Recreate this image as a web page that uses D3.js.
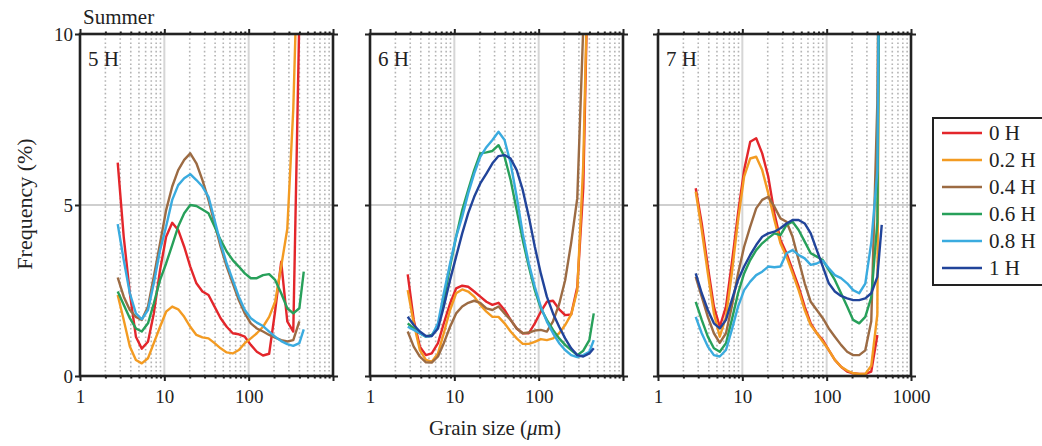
<!DOCTYPE html>
<html>
<head>
<meta charset="utf-8">
<script src="https://cdn.jsdelivr.net/npm/d3@7"></script>
<style>
  body { margin: 0; background: #fff; }
  svg text { font-family: "Liberation Serif", "Times New Roman", serif; fill: #222; }
</style>
</head>
<body>
<div id="chart"></div>
<script>
// grain sizes (um) shared by every curve
const sizes = [2.8, 3.3, 3.9, 4.6, 5.4, 6.4, 7.5, 8.9, 10.5, 12.4, 14.6, 17.2, 20.3, 24, 28.3, 33.4,
  39.4, 46.5, 54.9, 64.7, 76.4, 90, 106, 125, 148, 175, 206, 243, 287, 338, 399, 450];

const seriesNames = ["0 H", "0.2 H", "0.4 H", "0.6 H", "0.8 H", "1 H"];
const seriesColors = ["#e3262b", "#f39b22", "#9c6b43", "#27a05a", "#3aabdf", "#21449a"];
const panelTitles = ["5 H", "6 H", "7 H"];
const xTickLabels = [1, 10, 100, 1000];
const yTickLabels = [0, 5, 10];

// 5 H (no 1 H curve)
const panel5H = [
  [6.24, 4.07, 2.42, 1.15, 0.80, 1.0, 1.83, 3.1, 4.07, 4.48, 4.27, 3.78, 3.2, 2.71, 2.47, 2.37, 2.03, 1.69, 1.44, 1.25, 1.22, 1.15, 0.91, 0.71, 0.6, 0.65, 1.9, 3.34, 1.6, 1.3, 10.5, 20],
  [2.37, 1.64, 0.86, 0.47, 0.37, 0.52, 0.96, 1.44, 1.88, 2.03, 1.95, 1.73, 1.44, 1.2, 1.13, 1.1, 0.96, 0.81, 0.69, 0.66, 0.76, 0.96, 1.1, 1.25, 1.44, 1.73, 2.17, 3.2, 4.3, 7.8, 14, 20],
  [2.88, 2.32, 1.93, 1.73, 1.64, 2.03, 2.9, 3.88, 4.85, 5.54, 6.02, 6.32, 6.51, 6.22, 5.73, 5.15, 4.46, 3.78, 3.2, 2.71, 2.22, 1.83, 1.54, 1.39, 1.3, 1.2, 1.12, 1.05, 1.01, 1.05, 1.6, null],
  [2.47, 2.08, 1.69, 1.39, 1.3, 1.54, 2.12, 2.81, 3.29, 3.83, 4.37, 4.76, 5.0, 4.97, 4.87, 4.76, 4.37, 3.98, 3.64, 3.39, 3.2, 3.0, 2.86, 2.86, 2.95, 2.98, 2.81, 2.42, 1.98, 1.83, 1.98, 3.05],
  [4.44, 3.39, 2.42, 1.83, 1.66, 1.93, 2.71, 3.68, 4.37, 5.15, 5.58, 5.78, 5.9, 5.73, 5.54, 5.24, 4.56, 3.88, 3.29, 2.81, 2.32, 1.93, 1.69, 1.56, 1.46, 1.3, 1.15, 1.02, 0.93, 0.88, 0.96, 1.36],
  null
];

const panel6H = [
  [2.97, 1.64, 0.86, 0.61, 0.66, 0.96, 1.54, 2.12, 2.56, 2.64, 2.61, 2.47, 2.32, 2.17, 2.08, 2.14, 1.93, 1.64, 1.39, 1.25, 1.25, 1.54, 1.88, 2.17, 2.2, 1.95, 1.78, 1.8, 2.6, 5.5, 14, null],
  [2.51, 1.54, 0.76, 0.47, 0.42, 0.66, 1.25, 1.93, 2.42, 2.53, 2.47, 2.32, 2.08, 1.88, 1.73, 1.73, 1.54, 1.3, 1.1, 0.94, 0.94, 1.0, 1.08, 1.05, 1.1, 1.25, 1.49, 1.8, 2.5, 6.2, 14, null],
  [1.3, 0.86, 0.57, 0.4, 0.39, 0.57, 0.96, 1.44, 1.83, 2.03, 2.14, 2.2, 2.14, 1.98, 1.93, 2.03, 1.83, 1.64, 1.39, 1.25, 1.27, 1.33, 1.35, 1.3, 1.6, 2.1, 2.8, 3.9, 5.2, 10.2, 16, null],
  [1.54, 1.39, 1.25, 1.15, 1.2, 1.44, 2.22, 3.2, 4.07, 4.85, 5.44, 6.02, 6.51, 6.54, 6.58, 6.75, 6.41, 5.73, 4.85, 3.98, 3.2, 2.51, 1.98, 1.64, 1.35, 1.1, 0.91, 0.76, 0.61, 0.74, 1.05, 1.83],
  [1.44, 1.35, 1.25, 1.15, 1.17, 1.54, 2.42, 3.29, 4.07, 4.66, 5.34, 5.92, 6.41, 6.69, 6.9, 7.14, 6.9, 6.22, 5.24, 4.17, 3.29, 2.61, 2.03, 1.59, 1.25, 0.96, 0.76, 0.61, 0.55, 0.61, 0.71, 1.05],
  [1.73, 1.49, 1.3, 1.17, 1.17, 1.39, 2.03, 2.81, 3.49, 4.17, 4.76, 5.24, 5.63, 5.92, 6.22, 6.43, 6.46, 6.36, 6.02, 5.44, 4.66, 3.78, 3.0, 2.32, 1.83, 1.44, 1.1, 0.81, 0.61, 0.57, 0.66, 0.81]
];

const panel7H = [
  [5.49, 4.46, 3.2, 2.03, 1.44, 2.03, 3.29, 4.76, 6.02, 6.85, 6.95, 6.51, 5.83, 4.76, 3.98, 3.59, 3.1, 2.61, 2.03, 1.54, 1.25, 1.05, 0.76, 0.47, 0.27, 0.13, 0.08, 0.06, 0.06, 0.13, 1.2, null],
  [5.39, 4.27, 3.0, 1.83, 1.15, 1.73, 3.0, 4.56, 5.83, 6.36, 6.41, 6.02, 5.34, 4.56, 3.88, 3.49, 3.0, 2.51, 1.93, 1.49, 1.25, 1.0, 0.76, 0.47, 0.27, 0.16, 0.08, 0.06, 0.06, 0.3, 1.8, 26],
  [2.9, 2.32, 1.73, 1.25, 0.97, 1.25, 2.03, 3.0, 3.78, 4.37, 4.9, 5.15, 5.24, 4.95, 4.61, 4.51, 4.07, 3.39, 2.71, 2.17, 1.93, 1.69, 1.39, 1.15, 0.91, 0.71, 0.61, 0.61, 0.75, 1.6, 8, 22],
  [2.17, 1.64, 1.15, 0.81, 0.71, 0.96, 1.64, 2.42, 3.0, 3.39, 3.68, 3.88, 4.03, 4.17, 4.12, 4.42, 4.51, 4.27, 3.93, 3.59, 3.49, 3.39, 3.1, 2.81, 2.42, 2.03, 1.64, 1.54, 1.73, 2.3, 4.5, 22],
  [1.73, 1.25, 0.86, 0.61, 0.57, 0.76, 1.35, 2.03, 2.51, 2.76, 2.95, 3.05, 3.2, 3.18, 3.2, 3.59, 3.68, 3.54, 3.44, 3.25, 3.29, 3.37, 3.15, 2.95, 2.86, 2.71, 2.51, 2.42, 2.7, 3.9, 6, 22],
  [3.0, 2.42, 1.93, 1.54, 1.39, 1.64, 2.22, 2.81, 3.2, 3.54, 3.83, 4.07, 4.17, 4.22, 4.32, 4.46, 4.56, 4.56, 4.46, 4.17, 3.68, 3.2, 2.71, 2.47, 2.34, 2.27, 2.22, 2.22, 2.27, 2.42, 2.9, 4.42]
];

const panels = [panel5H, panel6H, panel7H];

const width = 1042, height = 446;
const panelLeft = [80, 370, 658];
const panelW = 253;
const plotTop = 34, plotBottom = 376;

const svg = d3.select("#chart").append("svg")
  .attr("width", width)
  .attr("height", height);

const y = d3.scaleLinear().domain([0, 10]).range([plotBottom, plotTop]);

// minor / major log positions
const logTicks = [];
[1, 10, 100].forEach(dec => {
  for (let k = 1; k <= 9; k++) logTicks.push(dec * k);
});
logTicks.push(1000);
const isMajor = v => xTickLabels.includes(v);
const minorTicks = logTicks.filter(v => !isMajor(v));

panels.forEach((curves, p) => {
  const x0 = panelLeft[p];
  const x = d3.scaleLog().domain([1, 1000]).range([x0, x0 + panelW]);
  const g = svg.append("g");

  // dotted minor grid
  g.selectAll("line.minor")
    .data(minorTicks)
    .enter().append("line")
      .attr("class", "minor")
      .attr("x1", d => x(d)).attr("x2", d => x(d))
      .attr("y1", plotTop).attr("y2", plotBottom)
      .attr("stroke", "#b4b4b4")
      .attr("stroke-width", 1.6)
      .attr("stroke-dasharray", "1.6,2.6");

  // decade lines + 5% line
  g.selectAll("line.decade")
    .data([10, 100])
    .enter().append("line")
      .attr("x1", d => x(d)).attr("x2", d => x(d))
      .attr("y1", plotTop).attr("y2", plotBottom)
      .attr("stroke", "#d6d6d6")
      .attr("stroke-width", 2);
  g.append("line")
    .attr("x1", x0).attr("x2", x0 + panelW)
    .attr("y1", y(5)).attr("y2", y(5))
    .attr("stroke", "#cfcfcf")
    .attr("stroke-width", 2);

  // curves
  const clipId = "clip" + p;
  svg.append("clipPath").attr("id", clipId)
    .append("rect")
      .attr("x", x0).attr("y", plotTop)
      .attr("width", panelW).attr("height", plotBottom - plotTop);

  const line = d3.line()
    .defined(v => v != null)
    .x((v, i) => x(sizes[i]))
    .y(v => y(v));

  curves.forEach((vals, s) => {
    if (!vals) return;
    g.append("path")
      .attr("d", line(vals))
      .attr("fill", "none")
      .attr("stroke", seriesColors[s])
      .attr("stroke-width", 2.4)
      .attr("stroke-linejoin", "round")
      .attr("clip-path", `url(#${clipId})`);
  });

  // axes (ticks only, frame drawn after)
  const tickLen = d => isMajor(d) ? 5 : 2.5;
  const xb = g.append("g")
    .attr("transform", `translate(0,${plotBottom})`)
    .call(d3.axisBottom(x).tickValues(logTicks).tickSizeOuter(0)
      .tickFormat(d => (isMajor(d) && (d < 1000 || p === 2)) ? d : ""));
  xb.select(".domain").remove();
  xb.selectAll(".tick line").attr("y2", tickLen).attr("stroke", "#222").attr("stroke-width", 2);
  xb.selectAll(".tick text").attr("y", 14).attr("font-size", 19)
    .attr("font-family", "Liberation Serif").attr("fill", "#222");

  const xTop = g.append("g")
    .attr("transform", `translate(0,${plotTop})`)
    .call(d3.axisTop(x).tickValues(logTicks).tickSizeOuter(0).tickFormat(""));
  xTop.select(".domain").remove();
  xTop.selectAll(".tick line").attr("y2", d => -tickLen(d)).attr("stroke", "#222").attr("stroke-width", 2);

  const yl = g.append("g")
    .attr("transform", `translate(${x0},0)`)
    .call(d3.axisLeft(y).tickValues(yTickLabels).tickSize(5).tickSizeOuter(0)
      .tickFormat(d => p === 0 ? d : ""));
  yl.select(".domain").remove();
  yl.selectAll(".tick line").attr("stroke", "#222").attr("stroke-width", 2);
  yl.selectAll(".tick text").attr("x", -7).attr("font-size", 19)
    .attr("font-family", "Liberation Serif").attr("fill", "#222");

  const yr = g.append("g")
    .attr("transform", `translate(${x0 + panelW},0)`)
    .call(d3.axisRight(y).tickValues(yTickLabels).tickSize(5).tickSizeOuter(0).tickFormat(""));
  yr.select(".domain").remove();
  yr.selectAll(".tick line").attr("stroke", "#222").attr("stroke-width", 2);

  // frame
  g.append("rect")
    .attr("x", x0).attr("y", plotTop)
    .attr("width", panelW).attr("height", plotBottom - plotTop)
    .attr("fill", "none")
    .attr("stroke", "#222")
    .attr("stroke-width", 2.6);

  g.append("text")
    .attr("x", x0 + 8).attr("y", 66)
    .attr("font-size", 21)
    .text(panelTitles[p]);
});

// titles
svg.append("text")
  .attr("x", 83).attr("y", 24)
  .attr("font-size", 21)
  .text("Summer");

svg.append("text")
  .attr("transform", "translate(32,204) rotate(-90)")
  .attr("text-anchor", "middle")
  .attr("font-size", 22)
  .text("Frequency (%)");

const xTitle = svg.append("text")
  .attr("x", 495).attr("y", 435)
  .attr("text-anchor", "middle")
  .attr("font-size", 21);
xTitle.append("tspan").text("Grain size (");
xTitle.append("tspan").attr("font-style", "italic").text("\u03bc");
xTitle.append("tspan").text("m)");

// legend
const legend = svg.append("g").attr("transform", "translate(933,118)");
legend.append("rect")
  .attr("width", 112).attr("height", 167)
  .attr("fill", "#fff")
  .attr("stroke", "#222")
  .attr("stroke-width", 2);
seriesNames.forEach((name, i) => {
  const row = legend.append("g").attr("transform", `translate(0,${15 + i * 27})`);
  row.append("line")
    .attr("x1", 9).attr("x2", 49)
    .attr("stroke", seriesColors[i])
    .attr("stroke-width", 2.4);
  row.append("text")
    .attr("x", 56).attr("dy", "0.35em")
    .attr("font-size", 21)
    .text(name);
});
</script>
</body>
</html>
